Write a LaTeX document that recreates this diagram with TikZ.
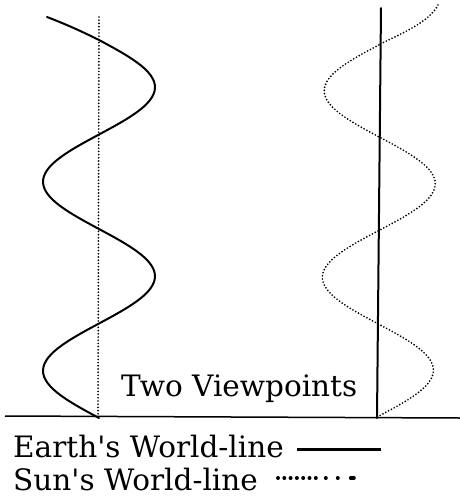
\documentclass[tikz,border=0pt]{standalone}
\usepackage{fontspec}
\setmainfont{DejaVu Serif}
\begin{document}
\begin{tikzpicture}[x=1pt,y=-1pt,
  solidline/.style={line width=2pt, line cap=round},
  dotline/.style={line width=1.9pt, line cap=round, dash pattern=on 0pt off 3.2pt},
  lbl/.style={font=\fontsize{29.5}{32}\selectfont, inner sep=0pt, anchor=base west}]
\useasboundingbox (0,0) rectangle (460,496);
% left figure: Earth at rest
\coordinate (eTop) at (99,17);
\coordinate (eBot) at (98,418);
\draw[dotline] (eTop) -- (eBot);
\draw[solidline] (47,17) .. controls (68,25) and (85,33) .. (99,40)
  -- plot[domain=40:418, samples=120, smooth] ({99+56*sin((\x-40)/94.5*180)}, \x);
% right figure: Sun at rest
\coordinate (sTop) at (381,8);
\coordinate (sBot) at (377,418);
\draw[solidline] (sTop) -- (sBot);
\draw[dotline] (438,5) .. controls (430,20) and (410,30) .. (380,44)
  -- plot[domain=44:417, samples=120, smooth] ({381-(\x-8)/102.5-56*sin((\x-44)/93.25*180)}, \x);
% ground
\coordinate (gL) at (5,416);
\coordinate (gR) at (460,418);
\draw[line width=1.5pt] (gL) -- (gR);
% title
\node[lbl] (title) at (121,396) {Two Viewpoints};
% legend
\node[lbl] (earth) at (13,457) {Earth\textquotesingle s World-line};
\node[lbl] (sun) at (13,490) {Sun\textquotesingle s World-line};
\coordinate (e1) at (297,449);
\coordinate (e2) at (381,449);
\draw[line width=3pt] (e1) -- (e2);
\coordinate (s1) at (278,478);
\coordinate (s2) at (361,478);
\draw[line width=4pt, line cap=round,
  dash pattern=on 0pt off 6.3pt on 0pt off 6.3pt on 0pt off 6.3pt on 0pt off 6.3pt on 0pt off 6.3pt on 0pt off 6.3pt on 0pt off 10pt on 0pt off 12pt on 0pt off 13pt on 3pt off 100pt] (s1) -- (s2);
\end{tikzpicture}
\end{document}
